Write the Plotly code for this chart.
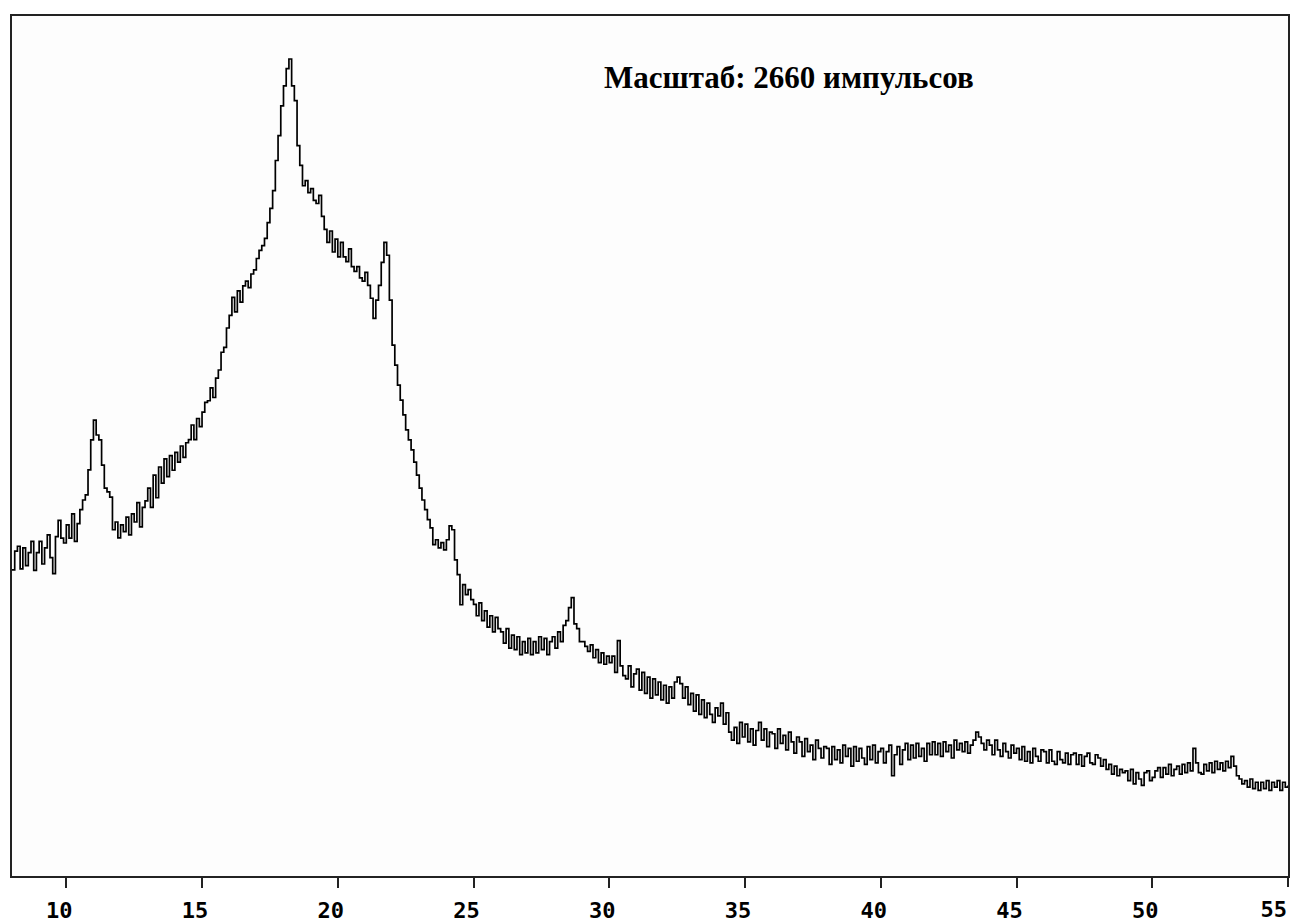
import numpy as np
import plotly.graph_objects as go

# scan grid (degrees 2-theta)
theta_start = 8.0
theta_step = 0.1

# intensity (counts), one row per degree
counts = [
    947, 1005, 1020, 950, 1015, 960, 1000, 1035, 945, 1000,     # 8
    1035, 965, 1015, 1055, 985, 935, 1050, 1100, 1045, 1030,    # 9
    1086, 1045, 1120, 1035, 1090, 1133, 1163, 1179, 1256, 1349, # 10
    1410, 1364, 1349, 1271, 1200, 1188, 1172, 1071, 1095, 1046, # 11
    1086, 1065, 1110, 1055, 1120, 1095, 1155, 1080, 1140, 1160, # 12
    1200, 1140, 1240, 1170, 1265, 1215, 1290, 1235, 1300, 1255, # 13
    1310, 1280, 1330, 1295, 1340, 1350, 1395, 1350, 1415, 1390, # 14
    1435, 1465, 1470, 1510, 1480, 1540, 1565, 1620, 1635, 1695, # 15
    1734, 1790, 1745, 1810, 1775, 1825, 1840, 1820, 1862, 1875, # 16
    1910, 1935, 1950, 1972, 2021, 2065, 2120, 2213, 2290, 2382, # 17
    2444, 2497, 2527, 2444, 2398, 2259, 2198, 2135, 2151, 2114, # 18
    2126, 2090, 2080, 2105, 2040, 2000, 1960, 1995, 1930, 1970, # 19
    1915, 1960, 1915, 1900, 1940, 1885, 1870, 1885, 1850, 1840, # 20
    1867, 1827, 1787, 1725, 1781, 1827, 1898, 1960, 1920, 1781, # 21
    1642, 1580, 1518, 1472, 1426, 1380, 1349, 1318, 1280, 1240, # 22
    1200, 1163, 1133, 1102, 1077, 1025, 1040, 1015, 1031, 1009, # 23
    1040, 1083, 1071, 978, 932, 839, 901, 870, 886, 855,        # 24
    840, 805, 845, 790, 820, 770, 805, 755, 800, 765,           # 25
    755, 720, 765, 705, 745, 700, 740, 685, 725, 690,           # 26
    735, 685, 725, 690, 740, 700, 735, 685, 725, 740,           # 27
    705, 755, 725, 775, 790, 830, 861, 780, 765, 725,           # 28
    725, 710, 695, 715, 675, 700, 660, 690, 655, 680,           # 29
    660, 680, 630, 728, 650, 620, 610, 650, 585, 625,           # 30
    640, 575, 630, 565, 615, 550, 610, 560, 600, 545,           # 31
    590, 535, 585, 550, 600, 615, 595, 550, 585, 530,           # 32
    565, 510, 560, 500, 545, 490, 535, 500, 475, 520,           # 33
    495, 535, 470, 505, 445, 420, 460, 410, 475, 430,           # 34
    470, 415, 455, 405, 450, 475, 420, 455, 400, 445,           # 35
    440, 395, 455, 410, 435, 390, 445, 415, 380, 430,           # 36
    415, 370, 425, 385, 405, 360, 420, 395, 365, 400,           # 37
    395, 345, 400, 360, 390, 350, 405, 370, 395, 340,           # 38
    400, 355, 395, 365, 345, 400, 360, 405, 350, 385,           # 39
    395, 350, 385, 405, 310, 375, 400, 345, 390, 410,           # 40
    360, 405, 365, 410, 370, 395, 355, 410, 375, 415,           # 41
    375, 410, 370, 415, 385, 405, 365, 420, 390, 410,           # 42
    385, 415, 380, 405, 420, 445, 430, 410, 390, 420,           # 43
    405, 375, 420, 390, 370, 410, 385, 365, 405, 380,           # 44
    395, 360, 400, 355, 385, 350, 395, 370, 355, 390,           # 45
    385, 350, 390, 355, 345, 385, 360, 350, 380, 345,           # 46
    375, 380, 345, 375, 340, 370, 380, 350, 345, 375,           # 47
    365, 340, 360, 330, 345, 315, 340, 310, 330, 320,           # 48
    325, 295, 330, 285, 320, 300, 280, 320, 325, 295,           # 49
    305, 325, 335, 305, 335, 315, 345, 310, 330, 340,           # 50
    315, 345, 320, 350, 325, 395, 350, 320, 315, 345,           # 51
    325, 350, 320, 355, 330, 350, 325, 355, 335, 370,           # 52
    340, 310, 300, 285, 295, 275, 300, 270, 290, 265,           # 53
    290, 270, 295, 265, 290, 275, 295, 265, 290, 275,           # 54
    280,                                                        # 55
]

tick_values = [10, 15, 20, 25, 30, 35, 40, 45, 50]
last_tick = [55]
x_range = [8.0, 55.0]
y_scale = 2660
label_text = "Масштаб: 2660 импульсов"

two_theta = np.round(theta_start + theta_step * np.arange(len(counts)), 2)

fig = go.Figure()
fig.add_trace(go.Scatter(
    x=two_theta, y=counts, mode="lines", line_shape="hv",
    line=dict(color="black", width=1.7), showlegend=False,
    hoverinfo="x+y",
))
# invisible trace to bind the second x axis (for the last tick label)
fig.add_trace(go.Scatter(x=[x_range[0]], y=[0], xaxis="x2", mode="markers",
                         marker=dict(opacity=0), showlegend=False, hoverinfo="skip"))

tickfont = dict(family="DejaVu Sans Mono", size=22, color="black", weight="bold")

fig.update_layout(
    width=1293, height=922,
    margin=dict(l=12, r=5, t=16, b=46),
    paper_bgcolor="white", plot_bgcolor="#fdfdfd",
    xaxis=dict(range=x_range, tickvals=tick_values, ticktext=[str(v) for v in tick_values],
               ticks="outside", ticklen=10, tickwidth=2, tickcolor="#222",
               tickfont=tickfont, ticklabelshift=-7, ticklabelstandoff=4,
               automargin=False,
               showgrid=False, zeroline=False,
               showline=True, linecolor="#222", linewidth=2, mirror=True),
    xaxis2=dict(range=x_range, overlaying="x", side="bottom", matches="x",
                tickvals=last_tick, ticktext=[str(v) for v in last_tick],
                ticks="outside", ticklen=10, tickwidth=2, tickcolor="#222",
                tickfont=tickfont, ticklabelposition="outside left", ticklabelstandoff=14,
                automargin=False,
                showgrid=False, zeroline=False, showline=False),
    yaxis=dict(range=[0, y_scale], showticklabels=False, ticks="",
               automargin=False,
               showgrid=False, zeroline=False,
               showline=True, linecolor="#222", linewidth=2, mirror=True),
    annotations=[dict(
        text="<b>" + label_text + "</b>", xref="paper", yref="paper",
        x=0.462, y=0.928, xanchor="left", yanchor="middle", showarrow=False,
        font=dict(family="Liberation Serif", size=31, color="black"),
    )],
)

fig.write_html("out.html")
